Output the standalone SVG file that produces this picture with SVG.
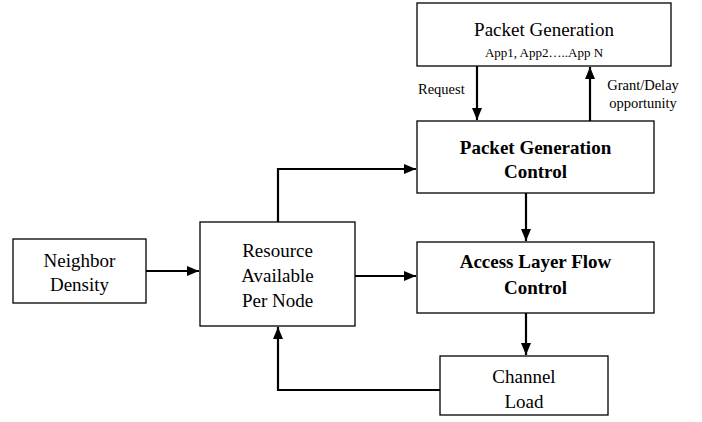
<svg xmlns="http://www.w3.org/2000/svg" width="702" height="422" viewBox="0 0 702 422">
  <style>
    .box { fill: #ffffff; stroke: #000000; stroke-width: 1.3; }
    .lbl { font-family: "Liberation Serif", "Times New Roman", serif; font-size: 19px; fill: #000000; text-anchor: middle; }
    .bold { font-weight: bold; }
    .small { font-size: 13px; }
    .note { font-family: "Liberation Serif", "Times New Roman", serif; font-size: 14.5px; fill: #000000; }
    .edge { fill: none; stroke: #000000; stroke-width: 2.2; }
  </style>
  <defs>
    <marker id="arrow" viewBox="0 0 12 10" refX="12" refY="5" markerWidth="12" markerHeight="10" markerUnits="userSpaceOnUse" orient="auto">
      <path d="M0,0 L12,5 L0,10 Z" fill="#000000"/>
    </marker>
  </defs>

  <rect width="702" height="422" fill="#ffffff"/>

  <g id="packet-generation">
    <rect class="box" x="417" y="3" width="254" height="63"/>
    <text class="lbl" x="544" y="36">Packet Generation</text>
    <text class="lbl small" x="544" y="57">App1, App2…..App N</text>
  </g>

  <g id="packet-generation-control">
    <rect class="box" x="417" y="121" width="237" height="72"/>
    <text class="lbl bold" x="535.5" y="154">Packet Generation</text>
    <text class="lbl bold" x="535.5" y="178">Control</text>
  </g>

  <g id="access-layer-flow-control">
    <rect class="box" x="417" y="242" width="237" height="71"/>
    <text class="lbl bold" x="535.5" y="268">Access Layer Flow</text>
    <text class="lbl bold" x="535.5" y="294">Control</text>
  </g>

  <g id="channel-load">
    <rect class="box" x="440" y="356" width="168" height="59"/>
    <text class="lbl" x="524" y="383">Channel</text>
    <text class="lbl" x="524" y="408">Load</text>
  </g>

  <g id="resource-available">
    <rect class="box" x="200" y="222" width="155" height="104"/>
    <text class="lbl" x="277.5" y="257">Resource</text>
    <text class="lbl" x="277.5" y="282">Available</text>
    <text class="lbl" x="277.5" y="307">Per Node</text>
  </g>

  <g id="neighbor-density">
    <rect class="box" x="13" y="239" width="133" height="64"/>
    <text class="lbl" x="79.5" y="267">Neighbor</text>
    <text class="lbl" x="79.5" y="291">Density</text>
  </g>

  <g id="connectors">
    <line class="edge" x1="477" y1="66" x2="477" y2="120" marker-end="url(#arrow)"/>
    <line class="edge" x1="590" y1="121" x2="590" y2="67" marker-end="url(#arrow)"/>
    <line class="edge" x1="526" y1="193" x2="526" y2="241" marker-end="url(#arrow)"/>
    <line class="edge" x1="526" y1="313" x2="526" y2="355" marker-end="url(#arrow)"/>
    <line class="edge" x1="146" y1="271" x2="199" y2="271" marker-end="url(#arrow)"/>
    <line class="edge" x1="355" y1="276" x2="416" y2="276" marker-end="url(#arrow)"/>
    <polyline class="edge" points="278,222 278,169 416,169" marker-end="url(#arrow)"/>
    <polyline class="edge" points="440,390 278,390 278,327" marker-end="url(#arrow)"/>
    <text class="note" x="418" y="94">Request</text>
    <text class="note" x="643" y="90" text-anchor="middle">Grant/Delay</text>
    <text class="note" x="643" y="108" text-anchor="middle">opportunity</text>
  </g>
</svg>
